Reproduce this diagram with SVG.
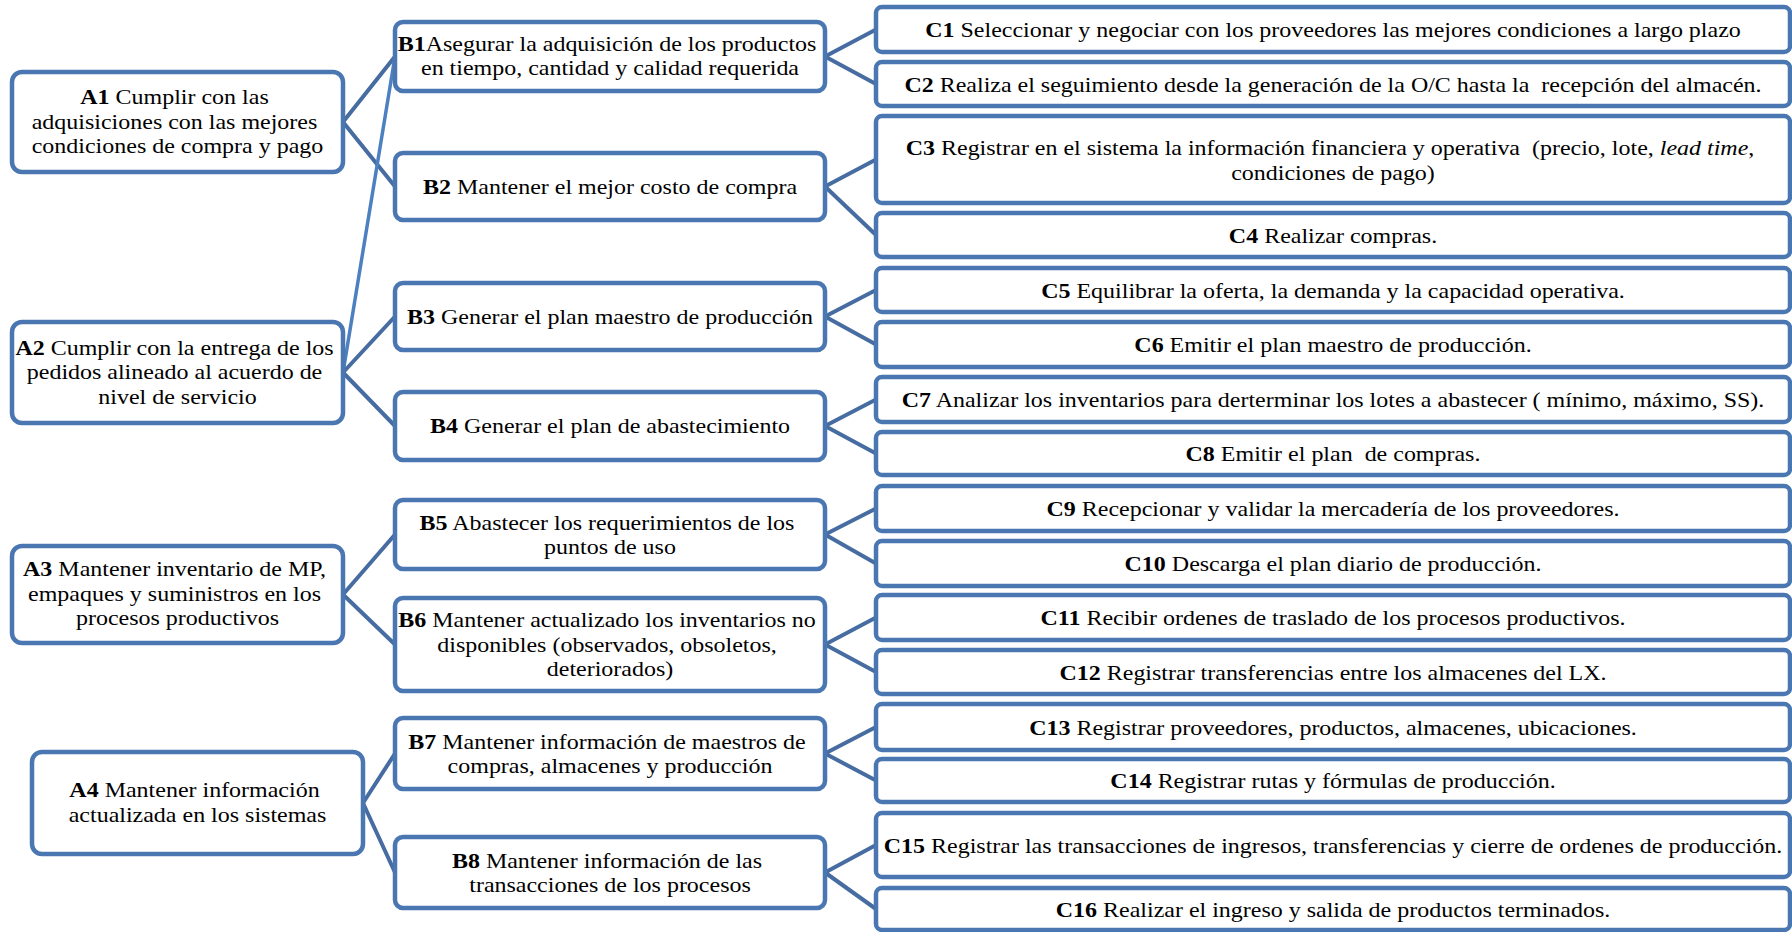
<svg xmlns="http://www.w3.org/2000/svg" width="1792" height="932" viewBox="0 0 1792 932">
  <style>
    .bg { fill: #ffffff; }
    .box { fill: #ffffff; stroke: #4a77b1; stroke-width: 4.5; }
    .link { fill: none; stroke: #466ca1; stroke-width: 4; stroke-linecap: round; }
    .link-long { fill: none; stroke: #4d80c0; stroke-width: 3.5; stroke-linecap: round; }
    .t { font-family: "Liberation Serif", "Times New Roman", serif; font-size: 22px; fill: #000000; text-anchor: middle; }
    .b { font-weight: bold; }
    .i { font-style: italic; }
  </style>

  <rect class="bg" x="0" y="0" width="1792" height="932"/>

  <!-- connectors -->
  <g id="connectors">
    <!-- level A to level B -->
    <path class="link" d="M343,122 L395,56.5 M343,122 L395,186.5"/>
    <path class="link-long" d="M343,372.5 L395,56.5"/>
    <path class="link" d="M343,372.5 L395,316.5 M343,372.5 L395,426"/>
    <path class="link" d="M343,594.5 L395,534.5 M343,594.5 L395,644.5"/>
    <path class="link" d="M363,803 L395,753.5 M363,803 L395,872.5"/>
    <!-- level B to level C -->
    <path class="link" d="M825,56.5 L876,29.5 M825,56.5 L876,84"/>
    <path class="link" d="M825,186.5 L876,159.5 M825,186.5 L876,235"/>
    <path class="link" d="M825,316.5 L876,290 M825,316.5 L876,344.5"/>
    <path class="link" d="M825,426 L876,399.5 M825,426 L876,453.5"/>
    <path class="link" d="M825,534.5 L876,508.5 M825,534.5 L876,563.5"/>
    <path class="link" d="M825,644.5 L876,617.5 M825,644.5 L876,672"/>
    <path class="link" d="M825,753.5 L876,727 M825,753.5 L876,780.5"/>
    <path class="link" d="M825,872.5 L876,845 M825,872.5 L876,909"/>
  </g>

  <!-- level A -->
  <g id="A1">
    <rect class="box" x="12" y="72" width="331" height="100" rx="10"/>
    <text class="t" transform="translate(177.5,0) scale(1.09,1)">
      <tspan x="0" y="104.5"><tspan class="b">A1</tspan> Cumplir con las</tspan>
      <tspan x="0" y="129">adquisiciones con las mejores</tspan>
      <tspan x="0" y="153.5">condiciones de compra y pago</tspan>
    </text>
  </g>
  <g id="A2">
    <rect class="box" x="12" y="322" width="331" height="101" rx="10"/>
    <text class="t" transform="translate(177.5,0) scale(1.09,1)">
      <tspan x="0" y="355"><tspan class="b">A2</tspan> Cumplir con la entrega de los</tspan>
      <tspan x="0" y="379.5">pedidos alineado al acuerdo de</tspan>
      <tspan x="0" y="404">nivel de servicio</tspan>
    </text>
  </g>
  <g id="A3">
    <rect class="box" x="12" y="546" width="331" height="97" rx="10"/>
    <text class="t" transform="translate(177.5,0) scale(1.09,1)">
      <tspan x="0" y="576.5"><tspan class="b">A3</tspan> Mantener inventario de MP,</tspan>
      <tspan x="0" y="601">empaques y suministros en los</tspan>
      <tspan x="0" y="625.5">procesos productivos</tspan>
    </text>
  </g>
  <g id="A4">
    <rect class="box" x="32" y="752" width="331" height="102" rx="10"/>
    <text class="t" transform="translate(197.5,0) scale(1.09,1)">
      <tspan x="0" y="797.5"><tspan class="b">A4</tspan> Mantener información</tspan>
      <tspan x="0" y="822">actualizada en los sistemas</tspan>
    </text>
  </g>

  <!-- level B -->
  <g id="B1">
    <rect class="box" x="395" y="22" width="430" height="69" rx="8"/>
    <text class="t" transform="translate(610,0) scale(1.09,1)">
      <tspan x="0" y="51"><tspan class="b">B1</tspan>Asegurar la adquisición de los productos</tspan>
      <tspan x="0" y="75.5">en tiempo, cantidad y calidad requerida</tspan>
    </text>
  </g>
  <g id="B2">
    <rect class="box" x="395" y="153" width="430" height="67" rx="8"/>
    <text class="t" transform="translate(610,0) scale(1.09,1)">
      <tspan x="0" y="194"><tspan class="b">B2</tspan> Mantener el mejor costo de compra</tspan>
    </text>
  </g>
  <g id="B3">
    <rect class="box" x="395" y="283" width="430" height="67" rx="8"/>
    <text class="t" transform="translate(610,0) scale(1.09,1)">
      <tspan x="0" y="324"><tspan class="b">B3</tspan> Generar el plan maestro de producción</tspan>
    </text>
  </g>
  <g id="B4">
    <rect class="box" x="395" y="392" width="430" height="68" rx="8"/>
    <text class="t" transform="translate(610,0) scale(1.09,1)">
      <tspan x="0" y="433.5"><tspan class="b">B4</tspan> Generar el plan de abastecimiento</tspan>
    </text>
  </g>
  <g id="B5">
    <rect class="box" x="395" y="500" width="430" height="69" rx="8"/>
    <text class="t" transform="translate(610,0) scale(1.09,1)">
      <tspan x="0" y="530"><tspan class="b">B5</tspan> Abastecer los requerimientos de los</tspan>
      <tspan x="0" y="554.5">puntos de uso</tspan>
    </text>
  </g>
  <g id="B6">
    <rect class="box" x="395" y="598" width="430" height="93" rx="8"/>
    <text class="t" transform="translate(610,0) scale(1.09,1)">
      <tspan x="0" y="627.5"><tspan class="b">B6</tspan> Mantener actualizado los inventarios no</tspan>
      <tspan x="0" y="652">disponibles (observados, obsoletos,</tspan>
      <tspan x="0" y="676.5">deteriorados)</tspan>
    </text>
  </g>
  <g id="B7">
    <rect class="box" x="395" y="718" width="430" height="71" rx="8"/>
    <text class="t" transform="translate(610,0) scale(1.09,1)">
      <tspan x="0" y="749"><tspan class="b">B7</tspan> Mantener información de maestros de</tspan>
      <tspan x="0" y="773.5">compras, almacenes y producción</tspan>
    </text>
  </g>
  <g id="B8">
    <rect class="box" x="395" y="837" width="430" height="71" rx="8"/>
    <text class="t" transform="translate(610,0) scale(1.09,1)">
      <tspan x="0" y="868"><tspan class="b">B8</tspan> Mantener información de las</tspan>
      <tspan x="0" y="892.5">transacciones de los procesos</tspan>
    </text>
  </g>

  <!-- level C -->
  <g id="C1">
    <rect class="box" x="876" y="7" width="914" height="45" rx="6"/>
    <text class="t" transform="translate(1333,0) scale(1.09,1)"><tspan x="0" y="37.5"><tspan class="b">C1</tspan> Seleccionar y negociar con los proveedores las mejores condiciones a largo plazo</tspan></text>
  </g>
  <g id="C2">
    <rect class="box" x="876" y="62" width="914" height="44" rx="6"/>
    <text class="t" transform="translate(1333,0) scale(1.09,1)"><tspan x="0" y="92"><tspan class="b">C2</tspan> Realiza el seguimiento desde la generación de la O/C hasta la&#160; recepción del almacén.</tspan></text>
  </g>
  <g id="C3">
    <rect class="box" x="876" y="116" width="914" height="87" rx="6"/>
    <text class="t" transform="translate(1333,0) scale(1.09,1)">
      <tspan x="0" y="155.25"><tspan class="b">C3</tspan> Registrar en el sistema la información financiera y operativa&#160; (precio, lote, <tspan class="i">lead time</tspan>,</tspan>
      <tspan x="0" y="179.75">condiciones de pago)</tspan>
    </text>
  </g>
  <g id="C4">
    <rect class="box" x="876" y="213" width="914" height="44" rx="6"/>
    <text class="t" transform="translate(1333,0) scale(1.09,1)"><tspan x="0" y="243"><tspan class="b">C4</tspan> Realizar compras.</tspan></text>
  </g>
  <g id="C5">
    <rect class="box" x="876" y="268" width="914" height="44" rx="6"/>
    <text class="t" transform="translate(1333,0) scale(1.09,1)"><tspan x="0" y="298"><tspan class="b">C5</tspan> Equilibrar la oferta, la demanda y la capacidad operativa.</tspan></text>
  </g>
  <g id="C6">
    <rect class="box" x="876" y="322" width="914" height="45" rx="6"/>
    <text class="t" transform="translate(1333,0) scale(1.09,1)"><tspan x="0" y="352.5"><tspan class="b">C6</tspan> Emitir el plan maestro de producción.</tspan></text>
  </g>
  <g id="C7">
    <rect class="box" x="876" y="377" width="914" height="45" rx="6"/>
    <text class="t" transform="translate(1333,0) scale(1.09,1)"><tspan x="0" y="407.5"><tspan class="b">C7</tspan> Analizar los inventarios para derterminar los lotes a abastecer ( mínimo, máximo, SS).</tspan></text>
  </g>
  <g id="C8">
    <rect class="box" x="876" y="432" width="914" height="43" rx="6"/>
    <text class="t" transform="translate(1333,0) scale(1.09,1)"><tspan x="0" y="461.5"><tspan class="b">C8</tspan> Emitir el plan&#160; de compras.</tspan></text>
  </g>
  <g id="C9">
    <rect class="box" x="876" y="486" width="914" height="45" rx="6"/>
    <text class="t" transform="translate(1333,0) scale(1.09,1)"><tspan x="0" y="516.5"><tspan class="b">C9</tspan> Recepcionar y validar la mercadería de los proveedores.</tspan></text>
  </g>
  <g id="C10">
    <rect class="box" x="876" y="541" width="914" height="45" rx="6"/>
    <text class="t" transform="translate(1333,0) scale(1.09,1)"><tspan x="0" y="571.5"><tspan class="b">C10</tspan> Descarga el plan diario de producción.</tspan></text>
  </g>
  <g id="C11">
    <rect class="box" x="876" y="595" width="914" height="45" rx="6"/>
    <text class="t" transform="translate(1333,0) scale(1.09,1)"><tspan x="0" y="625.5"><tspan class="b">C11</tspan> Recibir ordenes de traslado de los procesos productivos.</tspan></text>
  </g>
  <g id="C12">
    <rect class="box" x="876" y="650" width="914" height="44" rx="6"/>
    <text class="t" transform="translate(1333,0) scale(1.09,1)"><tspan x="0" y="680"><tspan class="b">C12</tspan> Registrar transferencias entre los almacenes del LX.</tspan></text>
  </g>
  <g id="C13">
    <rect class="box" x="876" y="704" width="914" height="46" rx="6"/>
    <text class="t" transform="translate(1333,0) scale(1.09,1)"><tspan x="0" y="735"><tspan class="b">C13</tspan> Registrar proveedores, productos, almacenes, ubicaciones.</tspan></text>
  </g>
  <g id="C14">
    <rect class="box" x="876" y="759" width="914" height="43" rx="6"/>
    <text class="t" transform="translate(1333,0) scale(1.09,1)"><tspan x="0" y="788.5"><tspan class="b">C14</tspan> Registrar rutas y fórmulas de producción.</tspan></text>
  </g>
  <g id="C15">
    <rect class="box" x="876" y="813" width="914" height="64" rx="6"/>
    <text class="t" transform="translate(1333,0) scale(1.09,1)"><tspan x="0" y="853"><tspan class="b">C15</tspan> Registrar las transacciones de ingresos, transferencias y cierre de ordenes de producción.</tspan></text>
  </g>
  <g id="C16">
    <rect class="box" x="876" y="888" width="914" height="42" rx="6"/>
    <text class="t" transform="translate(1333,0) scale(1.09,1)"><tspan x="0" y="917"><tspan class="b">C16</tspan> Realizar el ingreso y salida de productos terminados.</tspan></text>
  </g>
</svg>
